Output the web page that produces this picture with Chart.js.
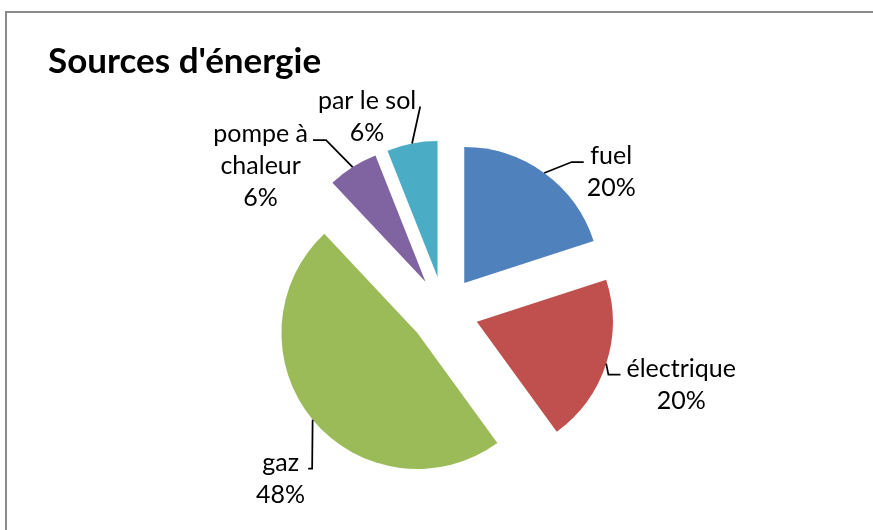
<!DOCTYPE html>
<html><head><meta charset="utf-8">
<script src="https://cdn.jsdelivr.net/npm/chart.js@4.4.0/dist/chart.umd.min.js"></script>
<style>html,body{margin:0;padding:0;background:#fff;overflow:hidden}
#wrap{position:relative;width:873px;height:530px}
</style></head><body>
<div id="wrap"><canvas id="c" width="873" height="530"></canvas></div>
<script>
const TITLE = "Sources d'énergie";
const categories = ['fuel', 'électrique', 'gaz', ['pompe à', 'chaleur'], 'par le sol'];
const values = [20, 20, 48, 6, 6];
const colors = ['#4F81BD', '#C0504D', '#9BBB59', '#8064A2', '#4BACC6'];

// label block centre relative to each slice's outer-arc midpoint (px), leader hook length, gap
const labelOffsets = [[67, -1, 12, 3], [75, 21, 12, 6], [-32, 59, 4, 3], [-92, -1, 13, 5], [-45, -27, 0, 4]];
const EXPLODE = 34.5;
const FONT = 'Lato, "Noto Sans", sans-serif';

const Arc = Chart.ArcElement || Chart.elements.ArcElement;
const baseArcDraw = Arc.prototype.draw;
Arc.prototype.draw = function (ctx) {
  const mid = (this.startAngle + this.endAngle) / 2;
  ctx.save();
  ctx.translate(Math.cos(mid) * EXPLODE, Math.sin(mid) * EXPLODE);
  baseArcDraw.call(this, ctx);
  ctx.restore();
};

const framePlugin = {
  id: 'frame',
  beforeDraw(chart) {
    const ctx = chart.ctx;
    ctx.save();
    ctx.strokeStyle = '#8a8a8a';
    ctx.lineWidth = 2;
    ctx.beginPath();
    ctx.moveTo(873, 12);
    ctx.lineTo(6, 12);
    ctx.lineTo(6, 530);
    ctx.stroke();
    ctx.restore();
  }
};

const labelPlugin = {
  id: 'sliceLabels',
  afterDatasetsDraw(chart) {
    const ctx = chart.ctx;
    const meta = chart.getDatasetMeta(0);
    const total = values.reduce((a, b) => a + b, 0);
    ctx.save();
    ctx.font = '25px ' + FONT;
    ctx.fillStyle = '#000';
    ctx.strokeStyle = '#000';
    ctx.lineWidth = 1.75;
    ctx.textBaseline = 'middle';
    ctx.textAlign = 'center';
    const lh = 32;
    meta.data.forEach((arc, i) => {
      const mid = (arc.startAngle + arc.endAngle) / 2;
      const px = arc.x + Math.cos(mid) * (EXPLODE + arc.outerRadius);
      const py = arc.y + Math.sin(mid) * (EXPLODE + arc.outerRadius);
      const lines = [].concat(chart.data.labels[i]);
      lines.push(Math.round(values[i] / total * 100) + '%');
      const [dx, dy, hook, gap] = labelOffsets[i];
      const bx = px + dx, by = py + dy;
      const w = Math.max(...lines.map(l => ctx.measureText(l).width));
      const top = by - lines.length * lh / 2;
      const onLeft = bx < px;
      const edgeX = onLeft ? bx + w / 2 + gap : bx - w / 2 - gap;
      const ey = top + 22;
      const hx = onLeft ? edgeX + hook : edgeX - hook;
      ctx.beginPath();
      ctx.moveTo(edgeX, ey);
      ctx.lineTo(hx, ey);
      ctx.lineTo(px, py);
      ctx.stroke();
      lines.forEach((l, k) => ctx.fillText(l, bx, top + lh * (k + 0.5)));
    });
    ctx.restore();
  }
};

new Chart(document.getElementById('c'), {
  type: 'pie',
  data: {
    labels: categories,
    datasets: [{
      data: values,
      backgroundColor: colors,
      borderWidth: 0,
      radius: 136
    }]
  },
  options: {
    responsive: false,
    animation: false,
    events: [],
    layout: { padding: { left: 48, right: 33, top: 0, bottom: 0 } },
    plugins: {
      legend: { display: false },
      tooltip: { enabled: false },
      title: {
        display: true,
        text: TITLE,
        align: 'start',
        color: '#000',
        font: { family: FONT, size: 35, weight: 'bold', lineHeight: 1.2 },
        padding: { top: 41, bottom: 9 }
      }
    }
  },
  plugins: [framePlugin, labelPlugin]
});
</script>
</body></html>
